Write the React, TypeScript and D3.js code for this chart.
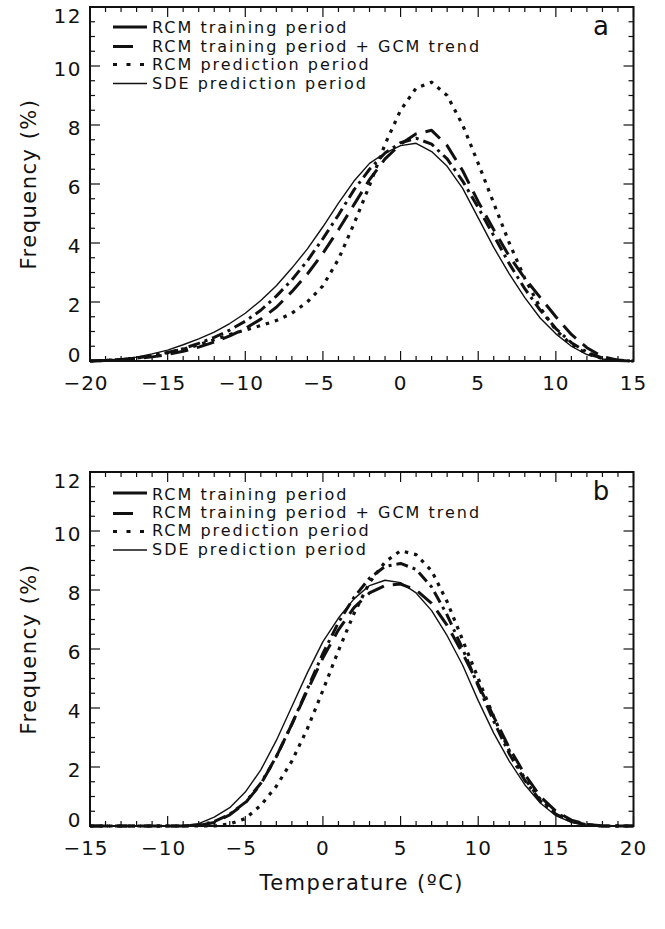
import React, { useEffect, useRef } from 'react';
import * as d3 from 'd3';

// temperature bins (deg C) for the two panels
const tempA = [-20, -19, -18, -17, -16, -15, -14, -13, -12, -11, -10, -9, -8, -7, -6, -5, -4, -3, -2, -1, 0,
    1, 2, 3, 4, 5, 6, 7, 8, 9, 10, 11, 12, 13, 14, 15];
const tempB = [-15, -14, -13, -12, -11, -10, -9, -8, -7, -6, -5, -4, -3, -2, -1, 0, 1, 2, 3, 4, 5,
    6, 7, 8, 9, 10, 11, 12, 13, 14, 15, 16, 17, 18, 19, 20];

// panel a frequencies (%)
const rcmTrainA = [0, 0.02, 0.05, 0.1, 0.18, 0.29, 0.42, 0.6, 0.8, 1.05, 1.35, 1.72, 2.2, 2.75, 3.4, 4.15, 4.95, 5.8, 6.5, 7.05, 7.4,
    7.55, 7.35, 6.85, 6.1, 5.2, 4.25, 3.3, 2.45, 1.72, 1.1, 0.62, 0.3, 0.1, 0.02, 0];
const rcmTrendA = [0, 0.02, 0.04, 0.08, 0.14, 0.22, 0.33, 0.47, 0.64, 0.85, 1.1, 1.42, 1.82, 2.35, 2.95, 3.65, 4.45, 5.3, 6.15, 6.85, 7.35,
    7.7, 7.82, 7.3, 6.45, 5.4, 4.45, 3.55, 2.8, 2.15, 1.5, 0.9, 0.45, 0.15, 0.03, 0];
const rcmPredA = [0, 0.02, 0.05, 0.1, 0.18, 0.28, 0.4, 0.55, 0.72, 0.9, 1.05, 1.2, 1.37, 1.62, 2.0, 2.55, 3.45, 4.65, 5.95, 7.35, 8.5,
    9.25, 9.45, 9.0, 8.0, 6.7, 5.35, 4.0, 2.8, 1.8, 1.05, 0.55, 0.25, 0.08, 0.02, 0];
const sdePredA = [0, 0.03, 0.07, 0.13, 0.24, 0.37, 0.55, 0.75, 0.98, 1.27, 1.62, 2.05, 2.55, 3.15, 3.8, 4.55, 5.35, 6.1, 6.7, 7.05, 7.3,
    7.38, 7.1, 6.6, 5.85, 4.85, 3.85, 2.95, 2.15, 1.45, 0.92, 0.5, 0.22, 0.07, 0.01, 0];

// panel b frequencies (%)
const rcmTrainB = [0, 0, 0, 0, 0, 0, 0, 0.03, 0.15, 0.4, 0.8, 1.45, 2.35, 3.45, 4.65, 5.85, 6.9, 7.75, 8.4, 8.8, 8.9,
    8.7, 8.1, 7.15, 6.0, 4.75, 3.55, 2.45, 1.55, 0.85, 0.4, 0.15, 0.04, 0, 0, 0];
const rcmTrendB = [0, 0, 0, 0, 0, 0, 0, 0.02, 0.12, 0.38, 0.78, 1.42, 2.35, 3.45, 4.6, 5.7, 6.65, 7.4, 7.9, 8.15, 8.2,
    8.0, 7.55, 6.8, 5.85, 4.8, 3.7, 2.65, 1.75, 1.0, 0.5, 0.2, 0.06, 0, 0, 0];
const rcmPredB = [0, 0, 0, 0, 0, 0, 0, 0, 0, 0.07, 0.25, 0.7, 1.35, 2.2, 3.3, 4.6, 5.95, 7.2, 8.25, 8.95, 9.33,
    9.2, 8.65, 7.6, 6.3, 5.0, 3.7, 2.55, 1.6, 0.9, 0.45, 0.17, 0.05, 0, 0, 0];
const sdePredB = [0, 0, 0, 0, 0, 0, 0.01, 0.08, 0.3, 0.62, 1.15, 1.9, 2.9, 4.05, 5.2, 6.25, 7.05, 7.7, 8.15, 8.33, 8.25,
    7.9, 7.3, 6.45, 5.45, 4.25, 3.15, 2.2, 1.4, 0.78, 0.35, 0.12, 0.03, 0, 0, 0];

const seriesNames = ['RCM training period', 'RCM training period + GCM trend', 'RCM prediction period', 'SDE prediction period'];
const yTicks = [0, 2, 4, 6, 8, 10, 12];
const xTicksA = [-20, -15, -10, -5, 0, 5, 10, 15];
const xTicksB = [-15, -10, -5, 0, 5, 10, 15, 20];

const FONT = "'DejaVu Sans', 'Liberation Sans', sans-serif";
const INK = '#111';

// line styles, in series order
const lineStyles = [
    {width: 3, dash: '12,5,3,5', legendDash: null},
    {width: 3, dash: '18,9', legendDash: '20,40'},
    {width: 3.2, dash: '3.5,6', legendDash: '4,9.5'},
    {width: 1.4, dash: null, legendDash: null}
];

const LEFT = 90, RIGHT = 633.5, HEIGHT = 354;

function drawPanel(g, {top, temps, series, xTicks, letter, legendLine, legendText, xTitle}) {
    const bottom = top + HEIGHT;
    const xDom = [xTicks[0], xTicks[xTicks.length - 1]];
    const x = d3.scaleLinear().domain(xDom).range([LEFT, RIGHT]);
    const y = d3.scaleLinear().domain([0, 12]).range([bottom, top]);

    // curves
    const line = d3.line<number>()
        .x((d, i) => x(temps[i]))
        .y(d => y(d));
    series.forEach((values, i) => {
        const st = lineStyles[i];
        g.append('path')
            .attr('d', line(values))
            .attr('fill', 'none')
            .attr('stroke', INK)
            .attr('stroke-width', st.width)
            .attr('stroke-dasharray', st.dash)
            .attr('stroke-linejoin', 'round');
    });

    // frame
    g.append('rect')
        .attr('x', LEFT).attr('y', top)
        .attr('width', RIGHT - LEFT).attr('height', HEIGHT)
        .attr('fill', 'none').attr('stroke', INK).attr('stroke-width', 2);

    // x ticks, major every 5, minor every 1
    d3.range(xDom[0], xDom[1] + 0.01, 1).forEach(t => {
        const len = t % 5 === 0 ? 10 : 5;
        g.append('line').attr('x1', x(t)).attr('x2', x(t)).attr('y1', bottom).attr('y2', bottom - len)
            .attr('stroke', INK).attr('stroke-width', 1.2);
        g.append('line').attr('x1', x(t)).attr('x2', x(t)).attr('y1', top).attr('y2', top + len)
            .attr('stroke', INK).attr('stroke-width', 1.2);
    });
    // y ticks, major every 2, minor every 0.5
    d3.range(0, 12.01, 0.5).forEach(v => {
        const len = v % 2 === 0 ? 10 : 5;
        g.append('line').attr('x1', LEFT).attr('x2', LEFT + len).attr('y1', y(v)).attr('y2', y(v))
            .attr('stroke', INK).attr('stroke-width', 1.2);
        g.append('line').attr('x1', RIGHT).attr('x2', RIGHT - len).attr('y1', y(v)).attr('y2', y(v))
            .attr('stroke', INK).attr('stroke-width', 1.2);
    });

    const fmt = d3.format('d');
    g.selectAll('.xlab').data(xTicks).enter().append('text')
        .attr('x', d => x(d) - (d < 0 ? 4 : 0)).attr('y', bottom + 22).attr('dy', '0.35em')
        .attr('text-anchor', 'middle')
        .style('font', `20px ${FONT}`).style('letter-spacing', '1px').attr('fill', INK)
        .text(d => fmt(d));
    g.selectAll('.ylab').data(yTicks).enter().append('text')
        .attr('x', 82)
        .attr('y', d => Math.min(Math.max(y(d) + 3, top + 9), bottom - 6))
        .attr('dy', '0.35em').attr('text-anchor', 'end')
        .style('font', `20px ${FONT}`).style('letter-spacing', '1.5px').attr('fill', INK)
        .text(d => fmt(d));

    g.append('text')
        .attr('transform', `translate(29,${(top + bottom) / 2}) rotate(-90)`)
        .attr('dy', '0.35em').attr('text-anchor', 'middle')
        .style('font', `21px ${FONT}`).style('letter-spacing', '1.5px').attr('fill', INK)
        .text('Frequency (%)');

    if (xTitle) {
        g.append('text')
            .attr('x', (LEFT + RIGHT) / 2).attr('y', bottom + 57).attr('dy', '0.35em')
            .attr('text-anchor', 'middle')
            .style('font', `21px ${FONT}`).style('letter-spacing', '1.5px').attr('fill', INK)
            .text(xTitle);
    }

    // panel letter
    g.append('text')
        .attr('x', 601).attr('y', top + 19).attr('dy', '0.35em').attr('text-anchor', 'middle')
        .style('font', `26px ${FONT}`).attr('fill', INK)
        .text(letter);

    // legend
    seriesNames.forEach((name, i) => {
        const st = lineStyles[i];
        g.append('line')
            .attr('x1', 113).attr('x2', 147)
            .attr('y1', top + legendLine[i]).attr('y2', top + legendLine[i])
            .attr('stroke', INK).attr('stroke-width', st.width)
            .attr('stroke-dasharray', st.legendDash);
        g.append('text')
            .attr('x', 152).attr('y', top + legendText[i]).attr('dy', '0.35em')
            .style('font', `16px ${FONT}`).style('letter-spacing', '2px').attr('fill', INK)
            .text(name);
    });
}

export default function App() {
    const ref = useRef<SVGSVGElement>(null);

    useEffect(() => {
        const svg = d3.select(ref.current);
        svg.selectAll('*').remove();

        drawPanel(svg.append('g'), {
            top: 7,
            temps: tempA,
            series: [rcmTrainA, rcmTrendA, rcmPredA, sdePredA],
            xTicks: xTicksA,
            letter: 'a',
            legendLine: [20, 39.5, 57.5, 76.5],
            legendText: [20, 39, 57.5, 76],
            xTitle: null
        });
        drawPanel(svg.append('g'), {
            top: 472,
            temps: tempB,
            series: [rcmTrainB, rcmTrendB, rcmPredB, sdePredB],
            xTicks: xTicksB,
            letter: 'b',
            legendLine: [21, 41.5, 59.5, 78],
            legendText: [22, 40, 58.5, 77],
            xTitle: 'Temperature (\u00baC)'
        });
    }, []);

    return (
        <div style={{position: 'absolute', left: 0, top: 0}}>
            <svg ref={ref} width={665} height={929} style={{display: 'block', background: '#fff'}}/>
        </div>
    );
}
